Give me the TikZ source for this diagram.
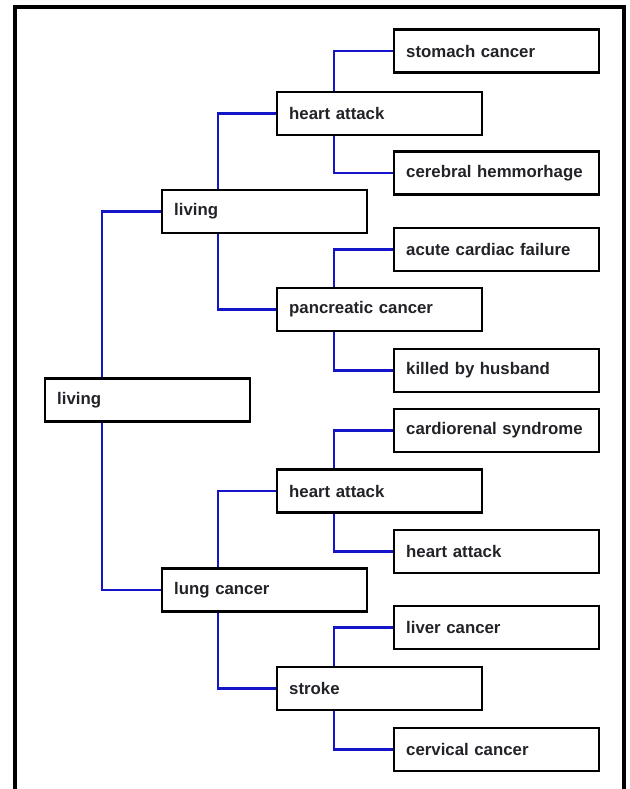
\documentclass[tikz,border=0pt]{standalone}
\usepackage{fontspec}
\setmainfont{Liberation Sans}
\definecolor{connblue}{RGB}{20,20,200}
\definecolor{txtdark}{RGB}{34,34,40}
\begin{document}
\begin{tikzpicture}[x=1pt,y=-1pt,
  box/.style={draw=black, line width=2.4pt, fill=white, rectangle, anchor=west,
    minimum width=205pt, minimum height=43pt, inner xsep=12pt, inner ysep=0pt,
    text width=181pt, align=left, text=txtdark,
    font=\fontsize{16.8}{20}\selectfont\bfseries},
  conn/.style={draw=connblue, line width=2.3pt},
  frame/.style={draw=black, line width=4pt}]
\useasboundingbox (0,0) rectangle (629,789);
\fill[white] (0,0) rectangle (629,789);
\draw[frame] (15,795) -- (15,7.5) -- (623.5,7.5) -- (623.5,795);

% nodes
\node[box] (root) at (44,400) {living};
\node[box] (l1a) at (161,211.5) {living};
\node[box] (l1b) at (161,590) {lung cancer};
\node[box] (l2a) at (276,113.5) {heart attack};
\node[box] (l2b) at (276,309.5) {pancreatic cancer};
\node[box] (l2c) at (276,491) {heart attack};
\node[box] (l2d) at (276,688.5) {stroke};
\node[box] (l3a) at (393,51) {stomach cancer};
\node[box] (l3b) at (393,173) {cerebral hemmorhage};
\node[box] (l3c) at (393,249.5) {acute cardiac failure};
\node[box] (l3d) at (393,370.5) {killed by husband};
\node[box] (l3e) at (393,430.5) {cardiorenal syndrome};
\node[box] (l3f) at (393,551.5) {heart attack};
\node[box] (l3g) at (393,627.5) {liver cancer};
\node[box] (l3h) at (393,749.5) {cervical cancer};

% connectors
\begin{scope}[on background layer/.style={}]
\end{scope}
\draw[conn] (l1a.west) -| ([xshift=58pt]root.north west);
\draw[conn] ([xshift=58pt]root.south west) |- (l1b.west);
\draw[conn] (l2a.west) -| ([xshift=57pt]l1a.north west);
\draw[conn] ([xshift=57pt]l1a.south west) |- (l2b.west);
\draw[conn] (l2c.west) -| ([xshift=57pt]l1b.north west);
\draw[conn] ([xshift=57pt]l1b.south west) |- (l2d.west);
\draw[conn] (l3a.west) -| ([xshift=58pt]l2a.north west);
\draw[conn] ([xshift=58pt]l2a.south west) |- (l3b.west);
\draw[conn] (l3c.west) -| ([xshift=58pt]l2b.north west);
\draw[conn] ([xshift=58pt]l2b.south west) |- (l3d.west);
\draw[conn] (l3e.west) -| ([xshift=58pt]l2c.north west);
\draw[conn] ([xshift=58pt]l2c.south west) |- (l3f.west);
\draw[conn] (l3g.west) -| ([xshift=58pt]l2d.north west);
\draw[conn] ([xshift=58pt]l2d.south west) |- (l3h.west);
\end{tikzpicture}
\end{document}
